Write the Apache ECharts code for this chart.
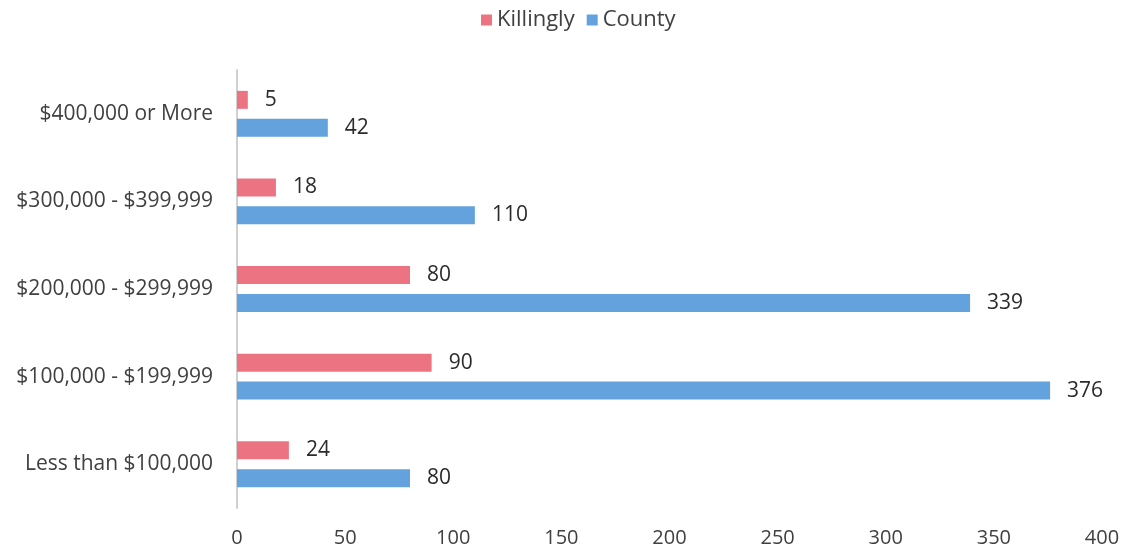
<!DOCTYPE html>
<html><head><meta charset="utf-8">
<script src="https://cdn.jsdelivr.net/npm/echarts@6/dist/echarts.min.js"></script>
<style>html,body{margin:0;padding:0;background:#fff}#c{width:1123px;height:550px}</style>
</head><body><div id="c"></div>
<script>
var categories = ['Less than $100,000', '$100,000 - $199,999', '$200,000 - $299,999', '$300,000 - $399,999', '$400,000 or More'];
var killingly = [24, 90, 80, 18, 5];
var county = [80, 376, 339, 110, 42];
var xTicks = [0, 50, 100, 150, 200, 250, 300, 350, 400];

var chart = echarts.init(document.getElementById('c'));
var font = 'Open Sans';
chart.setOption({
  animation: false,
  textStyle: {fontFamily: font},
  legend: {
    top: 4, left: 476, itemWidth: 11, itemHeight: 11, itemGap: 12,
    icon: 'rect',
    textStyle: {fontSize: 22, color: '#404040', fontFamily: font},
    data: ['Killingly', 'County']
  },
  grid: {left: 237, right: 21, top: 70, bottom: 42},
  xAxis: {
    type: 'value', min: xTicks[0], max: xTicks[xTicks.length - 1], interval: xTicks[1] - xTicks[0],
    axisLine: {show: false}, axisTick: {show: false}, splitLine: {show: false},
    axisLabel: {fontSize: 20, color: '#404040', margin: 20, fontFamily: font}
  },
  yAxis: {
    type: 'category', data: categories,
    axisLine: {show: true, lineStyle: {color: '#d0d0d0', width: 2}},
    axisTick: {show: false},
    axisLabel: {fontSize: 21, color: '#404040', margin: 24, fontFamily: font}
  },
  series: [
    {name: 'Killingly', type: 'bar', data: killingly, barWidth: 18, barGap: '55%',
     itemStyle: {color: '#ec7482'},
     label: {show: true, position: 'right', distance: 17, fontSize: 21, color: '#2b2b2b', fontFamily: font}},
    {name: 'County', type: 'bar', data: county, barWidth: 18, barGap: '55%',
     itemStyle: {color: '#64a2dd'},
     label: {show: true, position: 'right', distance: 17, fontSize: 21, color: '#2b2b2b', fontFamily: font}}
  ]
});
</script></body></html>
